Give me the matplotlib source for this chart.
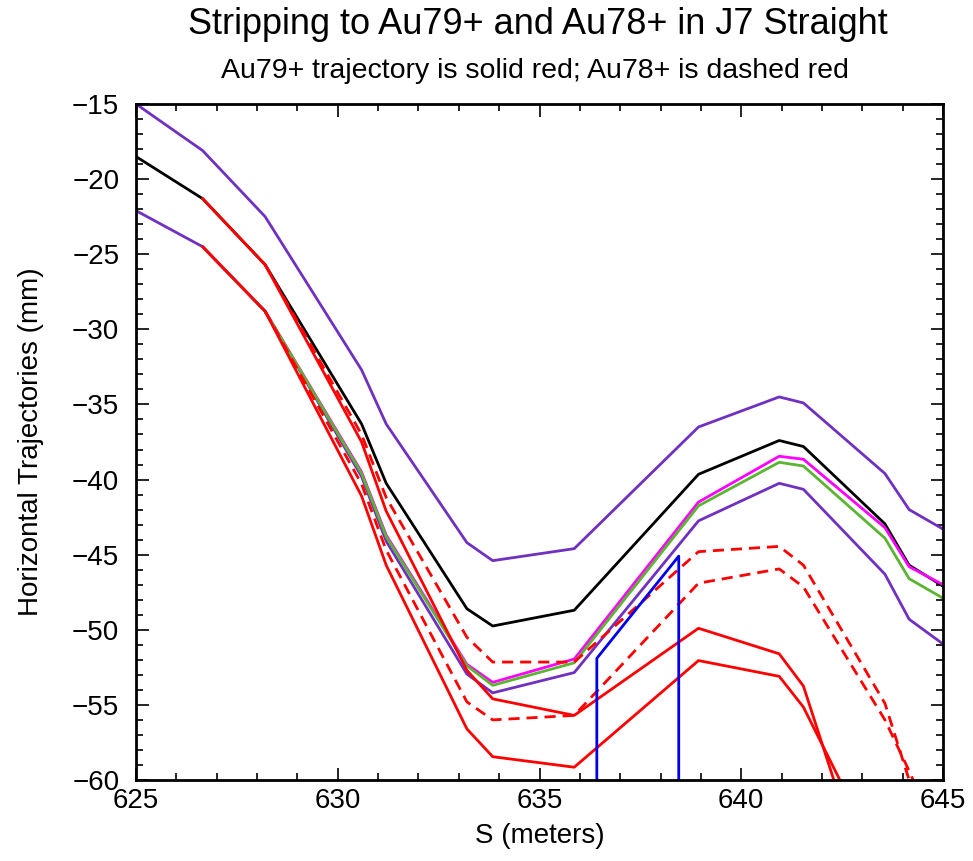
import matplotlib.pyplot as plt
from matplotlib.ticker import MultipleLocator

plt.rcParams['font.family'] = ['Liberation Sans', 'DejaVu Sans']

# lattice positions (m) where the trajectories bend
s = [625, 626.65, 628.2, 630.59, 631.2, 633.2, 633.84, 635.86,
     638.94, 640.94, 641.54, 643.56, 644.16, 645]

env_upper = [-15.0, -18.1, -22.5, -32.7, -36.3, -44.2, -45.4, -44.6,
             -36.5, -34.5, -34.9, -39.6, -42.0, -43.3]
center = [-18.5, -21.3, -25.7, -36.3, -40.25, -48.6, -49.75, -48.7,
          -39.65, -37.4, -37.8, -42.95, -45.7, -47.1]
env_lower = [-22.1, -24.5, -28.8, -39.8, -44.1, -52.95, -54.2, -52.85,
             -42.75, -40.25, -40.65, -46.3, -49.3, -50.95]

# orbits that branch off the lower envelope at 626.65 m
s_br = s[1:]
magenta = [-24.5, -28.8, -39.5, -43.7, -52.3, -53.5, -51.95,
           -41.5, -38.45, -38.65, -43.2, -45.8, -47.0]
green = [-24.5, -28.8, -39.6, -43.8, -52.4, -53.7, -52.2,
         -41.75, -38.85, -39.1, -43.9, -46.6, -47.9]

# stripped beam, Au79+ (solid) and Au78+ (dashed)
s79 = s[1:12]
au79_a = [-21.3, -25.7, -37.5, -42.1, -52.7, -54.6, -55.7,
          -49.9, -51.6, -53.75, -70.5]
au79_b = [-24.5, -28.8, -41.1, -45.7, -56.6, -58.45, -59.15,
          -52.05, -53.1, -55.15, -66.0]
s78 = s[2:14]
au78_a = [-25.7, -37.0, -41.2, -50.5, -52.15, -52.15,
          -44.8, -44.45, -45.7, -54.9, -60.0, -67.0]
au78_b = [-28.8, -40.3, -44.7, -54.8, -56.0, -55.7,
          -46.9, -45.95, -47.15, -56.0, -59.4, -64.5]

# blue outline
blue_s = [636.42, 636.42, 638.45, 638.45]
blue_x = [-60.0, -51.9, -45.1, -60.0]

fig = plt.figure(figsize=(9.73, 8.61), dpi=100)
ax = fig.add_axes([0.1398, 0.0941, 0.8294, 0.7851])

lw = 2.0
ax.plot(s, env_upper, color='#7030c0', lw=lw)
ax.plot(s, env_lower, color='#7030c0', lw=lw)
ax.plot(s, center, color='black', lw=lw)
ax.plot(s_br, magenta, color='#ff00ff', lw=lw)
ax.plot(s_br, green, color='#5ab531', lw=lw)
ax.plot(s79, au79_a, color='red', lw=lw)
ax.plot(s79, au79_b, color='red', lw=lw)
ax.plot(s78, au78_a, color='red', lw=lw, ls=(0, (4, 2.5)))
ax.plot(s78, au78_b, color='red', lw=lw, ls=(0, (4, 2.5)))
ax.plot(blue_s, blue_x, color='#0000ee', lw=lw)

ax.set_xlim(625, 645)
ax.set_ylim(-60, -15)
ax.xaxis.set_major_locator(MultipleLocator(5))
ax.xaxis.set_minor_locator(MultipleLocator(1))
ax.yaxis.set_major_locator(MultipleLocator(5))
ax.yaxis.set_minor_locator(MultipleLocator(1))
ax.tick_params(which='both', direction='in', top=True, right=True,
               labelsize=20, width=1.2)
ax.tick_params(which='major', length=9)
ax.tick_params(which='minor', length=5)
ax.tick_params(axis='x', which='major', pad=6)
ax.tick_params(axis='y', which='major', pad=12)
for sp in ax.spines.values():
    sp.set_linewidth(2)

ax.set_xlabel('S (meters)', fontsize=20, labelpad=6)
ax.set_ylabel('Horizontal Trajectories (mm)', fontsize=20, labelpad=20)

fig.text(0.553, 0.971, 'Stripping to Au79+ and Au78+ in J7 Straight',
         ha='center', va='center', fontsize=26)
fig.text(0.55, 0.917, 'Au79+ trajectory is solid red; Au78+ is dashed red',
         ha='center', va='center', fontsize=20.5)

fig.savefig('out.png', dpi=100)
